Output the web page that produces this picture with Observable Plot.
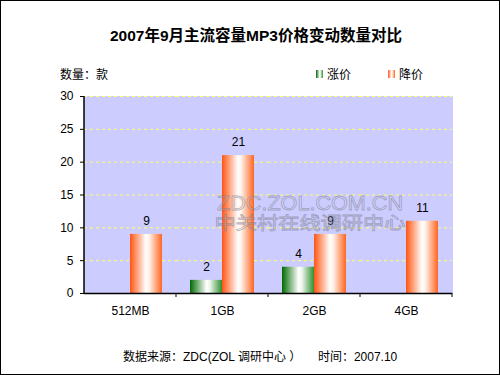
<!DOCTYPE html>
<html>
<head>
<meta charset="utf-8">
<script src="https://cdn.jsdelivr.net/npm/d3@7"></script>
<script src="https://cdn.jsdelivr.net/npm/@observablehq/plot@0.6"></script>
<style>
  html, body { margin: 0; padding: 0; background: #fff; }
  #chart { width: 500px; height: 375px; }
</style>
</head>
<body>
<div id="chart"></div>
<script>
const categories = ["512MB", "1GB", "2GB", "4GB"];
const series = ["涨价", "降价"];
const upValues = [0, 2, 4, 0];
const downValues = [9, 21, 9, 11];
const yTicks = [0, 5, 10, 15, 20, 25, 30];

const title = "2007年9月主流容量MP3价格变动数量对比";
const yUnit = "数量：款";
const caption = "数据来源：ZDC(ZOL 调研中心 ）     时间：2007.10";
const watermark1 = "ZDC.ZOL.COM.CN";
const watermark2 = "中关村在线调研中心";

const data = [];
categories.forEach((c, i) => {
  data.push({cat: c, series: series[0], value: upValues[i]});
  data.push({cat: c, series: series[1], value: downValues[i]});
});

const FONT = "'Liberation Sans', Arial, 'Noto Sans CJK SC', sans-serif";
const M = {top: 96, right: 47, bottom: 82, left: 83};

const plot = Plot.plot({
  width: 500,
  height: 375,
  marginTop: M.top,
  marginRight: M.right,
  marginBottom: M.bottom,
  marginLeft: M.left,
  style: {fontFamily: FONT, fontSize: "12px", color: "#000", background: "transparent"},
  fx: {domain: categories, padding: 0, label: null, axis: null},
  x: {domain: series, paddingInner: 0, paddingOuter: 0.4, axis: null},
  y: {domain: [0, 30], axis: null, label: null},
  marks: [
    Plot.frame({fill: "#ccccff", stroke: "#ccccff"}),
    Plot.gridY(yTicks.filter(d => d > 0), {stroke: "#ffff66", strokeOpacity: 1, strokeDasharray: "3,3"}),
    Plot.barY(data.filter(d => d.series === series[0]), {fx: "cat", x: "series", y: "value", fill: "url(#gUp)"}),
    Plot.barY(data.filter(d => d.series === series[1]), {fx: "cat", x: "series", y: "value", fill: "url(#gDown)"}),
    Plot.text(data.filter(d => d.value > 0), {fx: "cat", x: "series", y: "value", text: d => String(d.value), dy: -13, fontSize: 12, fill: "#000"}),
    Plot.ruleY([0], {stroke: "#000", strokeWidth: 1.5}),
    Plot.axisY({ticks: yTicks, tickSize: 4, tickPadding: 7, fontSize: 12, label: null, tickFormat: d => String(d)}),
    Plot.axisFx({anchor: "bottom", tickSize: 0, tickPadding: 13, fontSize: 12, label: null})
  ]
});

document.getElementById("chart").appendChild(plot);

const svg = d3.select(plot);
const defs = svg.insert("defs", ":first-child");
function grad(id, stops) {
  const g = defs.append("linearGradient").attr("id", id).attr("x1", "0").attr("y1", "0").attr("x2", "1").attr("y2", "0");
  stops.forEach(([o, c]) => g.append("stop").attr("offset", o).attr("stop-color", c));
}
grad("gUp", [["0", "#006a00"], ["0.52", "#ffffff"], ["0.62", "#eef6ee"], ["1", "#2f8f2f"]]);
grad("gDown", [["0", "#ff5511"], ["0.5", "#ffffff"], ["0.6", "#fff2ea"], ["1", "#ff6622"]]);

const fx = plot.scale("fx");
const y = plot.scale("y");
const y0 = y.apply(0), yTop = y.apply(30);
const left = fx.apply(categories[0]);
const right = fx.apply(categories[categories.length - 1]) + fx.bandwidth;

const deco = svg.append("g").attr("text-anchor", "start");
// y axis line
deco.append("line").attr("x1", left).attr("x2", left).attr("y1", yTop).attr("y2", y0).attr("stroke", "#000").attr("stroke-width", 1.5);
// category boundary ticks
categories.forEach(c => {
  const xr = fx.apply(c) + fx.bandwidth;
  deco.append("line").attr("x1", xr).attr("x2", xr).attr("y1", y0).attr("y2", y0 + 4).attr("stroke", "#000");
});

// watermark
const wx = (fx.apply(categories[1]) + right) / 2 - 4;
deco.append("text").attr("x", wx).attr("y", y.apply(12.6)).attr("text-anchor", "middle")
  .attr("font-size", 20).attr("font-family", FONT).attr("textLength", 186).attr("lengthAdjust", "spacingAndGlyphs")
  .attr("fill", "rgba(255,255,255,0.2)").attr("stroke", "rgba(110,110,130,0.5)").attr("stroke-width", 0.8)
  .text(watermark1);
deco.append("text").attr("x", wx).attr("y", y.apply(9.8)).attr("text-anchor", "middle")
  .attr("font-size", 17).attr("font-family", "'Noto Sans CJK SC', sans-serif").attr("textLength", 191).attr("lengthAdjust", "spacingAndGlyphs")
  .attr("fill", "rgba(255,255,255,0.2)").attr("stroke", "rgba(110,110,130,0.5)").attr("stroke-width", 0.8)
  .text(watermark2);

// title
deco.append("text").attr("x", 256).attr("y", 41).attr("text-anchor", "middle")
  .attr("font-size", 15.5).attr("font-weight", "bold").attr("font-family", FONT).attr("fill", "#000").text(title);
// y unit
deco.append("text").attr("x", 60).attr("y", 79).attr("font-size", 12).attr("font-family", FONT).attr("fill", "#000").text(yUnit);
// legend
const legend = [[series[0], "url(#gUp)", 316], [series[1], "url(#gDown)", 388]];
legend.forEach(([label, fill, lx]) => {
  deco.append("rect").attr("x", lx).attr("y", 70).attr("width", 7).attr("height", 8).attr("fill", fill);
  deco.append("text").attr("x", lx + 11).attr("y", 79).attr("font-size", 12).attr("font-family", FONT).attr("fill", "#000").text(label);
});
// caption
deco.append("text").attr("x", 123).attr("y", 361).attr("font-size", 12).attr("font-family", FONT).attr("fill", "#000")
  .attr("xml:space", "preserve").style("white-space", "pre").text(caption);
// border
deco.append("rect").attr("x", 0.5).attr("y", 0.5).attr("width", 499).attr("height", 374).attr("fill", "none").attr("stroke", "#000");
</script>
</body>
</html>
